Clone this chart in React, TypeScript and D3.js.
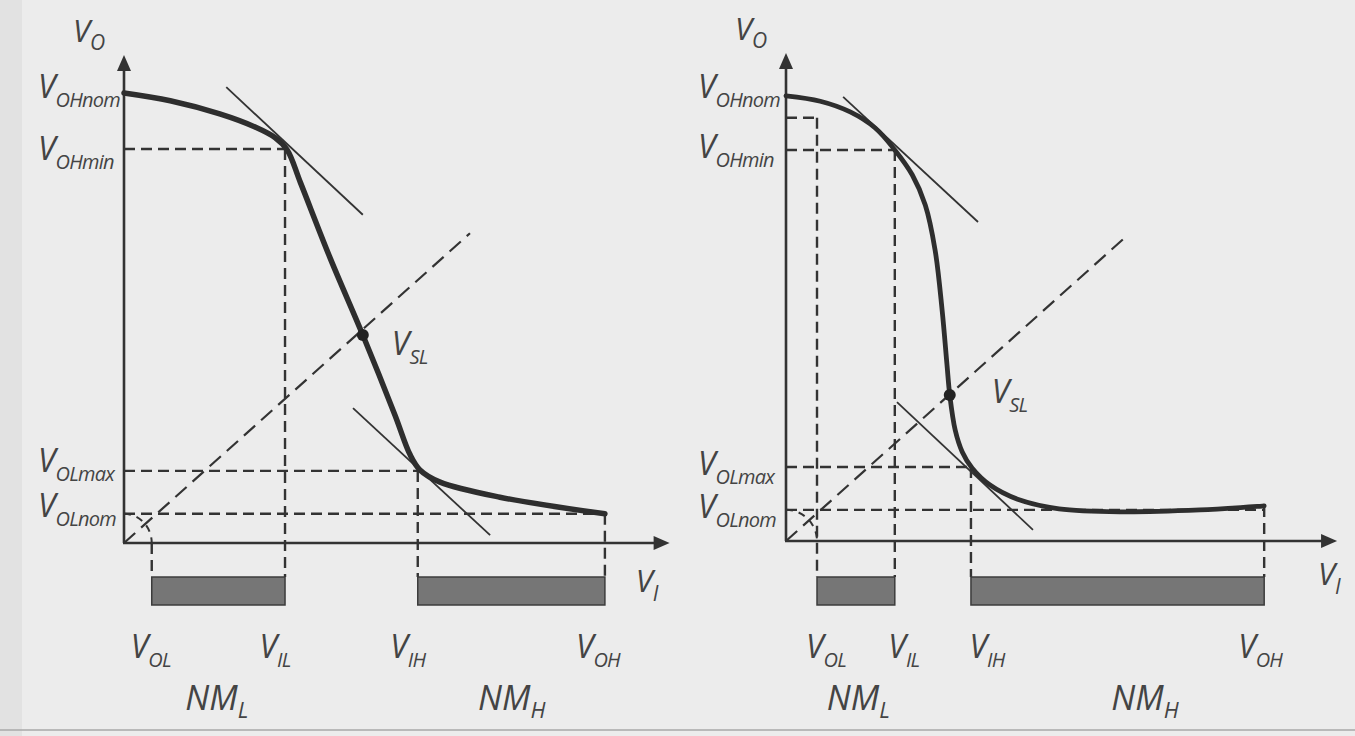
import React from "react";
import * as d3 from "d3";

type Pt = [number, number];

// names of the levels
const inputNames = ["OL", "IL", "IH", "OH"];
const outputNames = ["OHnom", "OHmin", "OLmax", "OLnom"];
const marginNames = ["L", "H"];

// left panel: soft transfer characteristic (data units 0..10)
const leftCurve: Pt[] = [
  [0, 9.24], [0.85, 9.08], [1.76, 8.81], [2.41, 8.54], [2.78, 8.32], [3.0, 8.07],
  [3.24, 7.41], [3.79, 5.85], [4.39, 4.27], [4.98, 2.63], [5.26, 1.81], [5.44, 1.5],
  [5.81, 1.25], [6.91, 0.94], [8.84, 0.6],
];
const leftInputs = [0.51, 2.96, 5.4, 8.84];
const leftInputTops = [0, 8.09, 1.48, 0.6];
const leftOutputs = [9.24, 8.09, 1.48, 0.6];
const leftHGuides: Pt[] = [[8.09, 2.96], [1.48, 5.4], [0.6, 8.84]];
const leftTangents: [Pt, Pt][] = [
  [[1.88, 9.36], [4.39, 6.74]],
  [[4.21, 2.77], [6.73, 0.16]],
];
const leftVsl: Pt = [4.39, 4.27];
const leftDiagonalEnd = 6.36;

// right panel: sharp transfer characteristic
const rightCurve: Pt[] = [
  [0, 9.14], [0.63, 9.03], [1.18, 8.81], [1.64, 8.48], [2.0, 8.03], [2.32, 7.52],
  [2.56, 6.9], [2.74, 5.98], [2.87, 4.74], [2.96, 3.61], [3.01, 3.0], [3.11, 2.28],
  [3.24, 1.83], [3.42, 1.5], [3.75, 1.15], [4.3, 0.84], [5.02, 0.66], [6.14, 0.6],
  [7.61, 0.64], [8.79, 0.72],
];
const rightInputs = [0.57, 2.0, 3.4, 8.79];
const rightInputTops = [8.69, 8.03, 1.52, 0.72];
const rightOutputs = [9.14, 8.03, 1.52, 0.64];
const rightHGuides: Pt[] = [[8.69, 0.57], [8.03, 2.0], [1.52, 3.4], [0.64, 8.79]];
const rightTangents: [Pt, Pt][] = [
  [[1.05, 9.12], [3.53, 6.55]],
  [[2.04, 2.85], [4.54, 0.23]],
];
const rightVsl: Pt = [3.01, 3.0];
const rightDiagonalEnd = 6.29;

const INK = "#333";
const TXT = "#444";
const FONT = "'Open Sans', 'DejaVu Sans', sans-serif";

function Sym({ x, y, main, sub, anchor = "start", size = 32, subSize = 20, subDy = 9 }: any) {
  return (
    <text x={x} y={y} textAnchor={anchor} fontFamily={FONT} fontStyle="italic" fontWeight={500} fill={TXT}>
      <tspan fontSize={size}>{main}</tspan>
      <tspan fontSize={subSize} dy={subDy} letterSpacing={-0.8}>{sub}</tspan>
    </text>
  );
}

function Panel(p: any) {
  const x = d3.scaleLinear().domain([0, 10]).range([p.ox, p.ox + 544]);
  const y = d3.scaleLinear().domain([0, 10]).range([p.oy, p.oy - 487]);
  const line = d3
    .line<Pt>()
    .x((d) => x(d[0]))
    .y((d) => y(d[1]))
    .curve(d3.curveCatmullRom.alpha(0.5));
  const barTop = 577;
  const barBottom = 605;
  const xTip = x(p.xTip);
  const yTip = y(10.02);
  const dash = "11 6";

  // quarter arc from (0, V_OLnom) to (V_OL, 0)
  const rx = x(p.inputs[0]) - x(0);
  const ry = y(0) - y(p.outputs[3]);
  const arc = `M${x(0)},${y(p.outputs[3])} A${rx},${ry} 0 0 1 ${x(p.inputs[0])},${y(0)}`;

  const bars: Pt[] = [
    [p.inputs[0], p.inputs[1]],
    [p.inputs[2], p.inputs[3]],
  ];

  return (
    <g>
      {/* guides */}
      {p.hGuides.map((g: Pt, i: number) => (
        <line key={"h" + i} x1={x(0)} x2={x(g[1])} y1={y(g[0])} y2={y(g[0])}
          stroke={INK} strokeWidth={2.4} strokeDasharray={dash} />
      ))}
      {p.inputs.map((v: number, i: number) => (
        <line key={"v" + i} x1={x(v)} x2={x(v)} y1={y(p.inputTops[i])} y2={barTop}
          stroke={INK} strokeWidth={2.4} strokeDasharray={dash} />
      ))}
      <path d={arc} fill="none" stroke={INK} strokeWidth={2} strokeDasharray="7 6" />
      <line x1={x(0)} y1={y(0)} x2={x(p.diagEnd)} y2={y(p.diagEnd)}
        stroke={INK} strokeWidth={2.2} strokeDasharray="15 8" />

      {/* tangents */}
      {p.tangents.map((t: [Pt, Pt], i: number) => (
        <line key={"t" + i} x1={x(t[0][0])} y1={y(t[0][1])} x2={x(t[1][0])} y2={y(t[1][1])}
          stroke={INK} strokeWidth={1.8} />
      ))}

      {/* axes */}
      <line x1={x(0)} y1={y(0)} x2={x(0)} y2={yTip + 12} stroke={INK} strokeWidth={2.6} />
      <path d={`M${x(0)},${yTip} L${x(0) - 7},${yTip + 16} L${x(0) + 7},${yTip + 16} Z`} fill={INK} />
      <line x1={x(0) - 1} y1={y(0)} x2={xTip - 12} y2={y(0)} stroke={INK} strokeWidth={2.6} />
      <path d={`M${xTip},${y(0)} L${xTip - 16},${y(0) - 7} L${xTip - 16},${y(0) + 7} Z`} fill={INK} />

      {/* transfer curve */}
      <path d={line(p.curve) || ""} fill="none" stroke="#2e2e2e" strokeWidth={p.curveWidth}
        strokeLinecap="round" strokeLinejoin="round" />
      <circle cx={x(p.vsl[0])} cy={y(p.vsl[1])} r={6} fill="#222" />

      {/* noise margin bars */}
      {bars.map((b, i) => (
        <rect key={"b" + i} x={x(b[0])} y={barTop} width={x(b[1]) - x(b[0])} height={barBottom - barTop}
          fill="#767676" stroke="#3c3c3c" strokeWidth={1.5} />
      ))}

      {/* labels */}
      <Sym x={x(0) - 51} y={y(0) - 501} main="V" sub="O" size={31} subSize={21} subDy={8} />
      <Sym x={xTip + p.viDx} y={y(0) + p.viDy} main="V" sub="I" size={31} subSize={21} subDy={9} />
      {p.outputs.map((v: number, i: number) => (
        <Sym key={"o" + i} x={p.labelX} y={y(v) + p.outDy[i]} main="V" sub={outputNames[i]} />
      ))}
      {p.inputs.map((v: number, i: number) => (
        <Sym key={"i" + i} x={x(v) + p.inDx[i]} y={658} anchor="middle" main="V" sub={inputNames[i]} />
      ))}
      {bars.map((b, i) => (
        <Sym key={"n" + i} x={(x(b[0]) + x(b[1])) / 2 + p.nmDx[i]} y={710} anchor="middle"
          main="NM" sub={marginNames[i]} size={34} subSize={22} subDy={8} />
      ))}
      <Sym x={x(p.vsl[0]) + p.vslDx} y={y(p.vsl[1]) + p.vslDy} main="V" sub="SL" />
    </g>
  );
}

export default function App() {
  return (
    <svg width={1355} height={736} style={{ position: "absolute", left: 0, top: 0 }}>
      <rect width={1355} height={736} fill="#ececec" />
      <rect width={22} height={736} fill="#e2e2e2" />
      <line x1={0} x2={1355} y1={730} y2={730} stroke="#a8a8a8" strokeWidth={1.5} />
      <Panel
        ox={124} oy={543} xTip={10.03} curve={leftCurve} inputs={leftInputs}
        inputTops={leftInputTops} outputs={leftOutputs} hGuides={leftHGuides}
        tangents={leftTangents} vsl={leftVsl} diagEnd={leftDiagonalEnd} curveWidth={5.5}
        labelX={38} outDy={[5, 11, 1, 3]} inDx={[-1, -10, -10, -7]} nmDx={[-2, 0]}
        viDx={-34} viDy={49} vslDx={29} vslDy={20}
      />
      <Panel
        ox={786} oy={541} xTip={10.13} curve={rightCurve} inputs={rightInputs}
        inputTops={rightInputTops} outputs={rightOutputs} hGuides={rightHGuides}
        tangents={rightTangents} vsl={rightVsl} diagEnd={rightDiagonalEnd} curveWidth={4.8}
        labelX={698} outDy={[2, 8, 8, 8]} inDx={[9, 9, 16, -4]} nmDx={[2, 27]}
        viDx={-19} viDy={44} vslDx={42} vslDy={8}
      />
    </svg>
  );
}
